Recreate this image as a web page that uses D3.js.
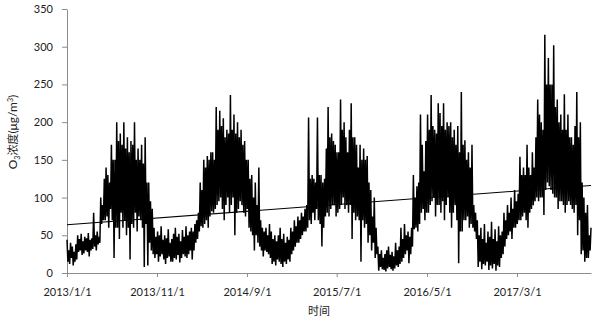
<!DOCTYPE html>
<html>
<head>
<meta charset="utf-8">
<script src="https://cdn.jsdelivr.net/npm/d3@7/dist/d3.min.js"></script>
<style>
  html, body { margin: 0; padding: 0; background: #fff; }
  svg text { font-family: Lato, "Noto Sans CJK SC", sans-serif; fill: #222; }
  .axis path, .axis line { stroke: #8c8c8c; }
</style>
</head>
<body>
<div id="chart"></div>
<script>
// O3 series, one value every 3 days from 2013/1/1
const startDate = new Date(2013, 0, 1);
const stepDays = 3;
const o3Values = [
  // 2013
  44, 15, 30, 12, 40, 20, 35, 10, 28, 15, 38, 18,
  50, 28, 45, 30, 52, 24, 42, 26, 48, 30, 46, 28, 53, 22, 44, 30, 46, 32,
  80, 35, 50, 30, 55, 38, 48, 40, 100, 65, 90, 70,
  125, 70, 140, 75, 130, 60, 120, 85, 170, 70, 150, 20, 150, 60,
  200, 60, 175, 45, 185, 80, 170, 60, 200, 70, 165, 50, 180, 60, 160, 18,
  175, 65, 170, 60, 200, 80, 150, 55, 165, 75,
  150, 70, 170, 60, 145, 8, 180, 65, 120, 10, 120, 40, 95, 30, 85, 25,
  60, 20, 48, 25, 55, 15, 50, 22, 62, 25, 44, 18, 50, 12, 46, 20, 58, 22, 40, 15,
  45, 15, 52, 20, 60, 18, 48, 24, 52, 14, 42, 20, 57, 25, 48, 22, 62, 20, 50, 25, 55, 30,
  // 2014
  60, 18, 55, 30, 65, 40, 70, 45, 80, 55,
  120, 62, 110, 60, 150, 65, 140, 70, 155, 60, 150, 75, 160, 82, 160, 80, 150, 85,
  220, 90, 190, 95, 215, 100, 195, 85, 205, 70, 180, 90, 190, 100, 185, 80,
  236, 90, 190, 100, 210, 50, 185, 80,
  200, 85, 180, 95, 190, 90, 170, 80, 175, 75, 150, 85, 150, 60, 125, 55, 130, 50,
  100, 30, 120, 50, 90, 40, 140, 35, 70, 30, 60, 22, 55, 30, 60, 28, 50, 25, 65, 20,
  55, 12, 45, 15, 50, 10, 42, 18, 50, 15, 60, 12, 45, 8, 52, 15, 40, 12, 48, 18, 44, 15,
  // 2015
  60, 25, 55, 30, 70, 35, 62, 40, 75, 40, 70, 45, 80, 50, 75, 55, 85, 55, 90, 60,
  206, 70, 125, 65, 130, 80, 125, 70, 120, 85, 206, 70, 130, 65,
  130, 35, 120, 60, 125, 75, 165, 80,
  220, 75, 180, 85, 185, 90, 175, 90, 170, 75, 160, 80, 160, 85,
  230, 90, 190, 100, 200, 85, 180, 90, 160, 80, 190, 90,
  225, 45, 180, 80, 180, 70, 170, 75, 140, 70,
  170, 15, 150, 70, 165, 60, 150, 65, 155, 40, 120, 50, 110, 30, 75, 40, 100, 20, 60, 25,
  35, 3, 25, 8, 30, 5, 20, 4, 25, 2, 30, 6, 35, 8, 24, 5, 28, 3, 22, 6, 40, 10, 30, 8, 35, 12,
  // 2016
  60, 15, 45, 20, 65, 25, 50, 30, 55, 13, 48, 25, 60, 35,
  130, 58, 100, 60, 115, 55, 120, 65, 210, 80, 170, 85, 135, 70, 175, 80,
  210, 80, 190, 90, 236, 95, 195, 100, 190, 75, 185, 90, 225, 90,
  212, 80, 195, 95, 225, 70, 190, 90, 200, 100, 195, 80,
  200, 60, 180, 80, 190, 90, 170, 70, 195, 13, 160, 55, 240, 55, 170, 70,
  176, 70, 150, 75, 160, 60, 140, 65, 170, 60, 90, 55, 80, 45,
  70, 8, 50, 15, 60, 5, 45, 12, 65, 10, 40, 15, 55, 4, 48, 10, 68, 6, 45, 12,
  58, 3, 42, 10, 62, 8, 50, 20, 55, 25,
  // 2017
  80, 35, 70, 45, 90, 50, 80, 55, 100, 45, 85, 60, 110, 60, 95, 65, 105, 70,
  154, 70, 130, 75, 140, 80, 130, 70, 170, 60, 140, 80, 130, 85, 160, 90, 140, 95, 180, 100,
  230, 95, 210, 100, 200, 100, 190, 77, 316, 110, 250, 120, 285, 115, 250, 110, 250, 105,
  302, 100, 220, 100, 230, 85, 200, 95, 210, 95, 190, 90,
  237, 80, 190, 90, 210, 95, 180, 90, 180, 85, 170, 80, 195, 90,
  240, 50, 180, 70, 200, 25, 120, 30, 100, 15, 80, 20, 90, 20, 50, 30, 60
];

// linear trend line, value at first and last day
const trendValues = [64, 116];

const xTickDates = [
  new Date(2013, 0, 1), new Date(2013, 10, 1), new Date(2014, 8, 1),
  new Date(2015, 6, 1), new Date(2016, 4, 1), new Date(2017, 2, 1)
];
const yTicks = [0, 50, 100, 150, 200, 250, 300, 350];

const width = 597, height = 322;
const margin = {top: 9, right: 6, bottom: 49, left: 67};

const data = o3Values.map((v, i) => ({date: d3.timeDay.offset(startDate, i * stepDays), value: v}));
const endDate = d3.timeDay.offset(startDate, 1770);

const svg = d3.select('#chart')
  .append('svg')
    .attr('width', width)
    .attr('height', height);

const x = d3.scaleTime()
  .domain([startDate, endDate])
  .range([margin.left, width - margin.right]);

const y = d3.scaleLinear()
  .domain([0, 350])
  .range([height - margin.bottom, margin.top]);

const fmt = d3.timeFormat('%Y/%-m/%-d');

svg.append('g')
  .attr('class', 'axis x-axis')
  .attr('transform', `translate(0,${height - margin.bottom})`)
  .call(d3.axisBottom(x).tickValues(xTickDates).tickFormat(fmt).tickSize(4).tickSizeOuter(0))
  .call(g => g.selectAll('text').attr('dy', '1.45em').style('font-size', '11px'));

svg.append('g')
  .attr('class', 'axis y-axis')
  .attr('transform', `translate(${margin.left},0)`)
  .call(d3.axisLeft(y).tickValues(yTicks).tickSize(5).tickSizeOuter(0).tickPadding(9))
  .call(g => g.selectAll('text').style('font-size', '11px'));

svg.selectAll('.axis text').style('fill', '#222');

const line = d3.line()
  .x(d => x(d.date))
  .y(d => y(d.value));

svg.append('path')
  .datum(data)
  .attr('fill', 'none')
  .attr('stroke', '#000')
  .attr('stroke-width', 1.5)
  .attr('stroke-linejoin', 'bevel')
  .attr('d', line);

// trend line
svg.append('path')
  .datum([{date: startDate, value: trendValues[0]}, {date: endDate, value: trendValues[1]}])
  .attr('fill', 'none')
  .attr('stroke', '#000')
  .attr('stroke-width', 1.1)
  .attr('d', line);

// axis titles
svg.append('text')
  .attr('x', 319)
  .attr('y', 315)
  .attr('text-anchor', 'middle')
  .style('font-size', '11px')
  .style('font-family', '"Noto Sans CJK SC", sans-serif')
  .text('时间');

const yTitle = svg.append('text')
  .attr('transform', 'translate(17,132) rotate(-90)')
  .attr('text-anchor', 'middle')
  .style('font-size', '12px');
yTitle.append('tspan').text('O');
yTitle.append('tspan').attr('dy', 3).style('font-size', '7px').text('3');
yTitle.append('tspan').attr('dy', -3).style('font-family', '"Noto Sans CJK SC", sans-serif').style('font-size', '11px').text('浓度');
yTitle.append('tspan').text('(μg/m');
yTitle.append('tspan').attr('dy', -4).style('font-size', '7px').text('3');
yTitle.append('tspan').attr('dy', 4).text(')');
</script>
</body>
</html>
